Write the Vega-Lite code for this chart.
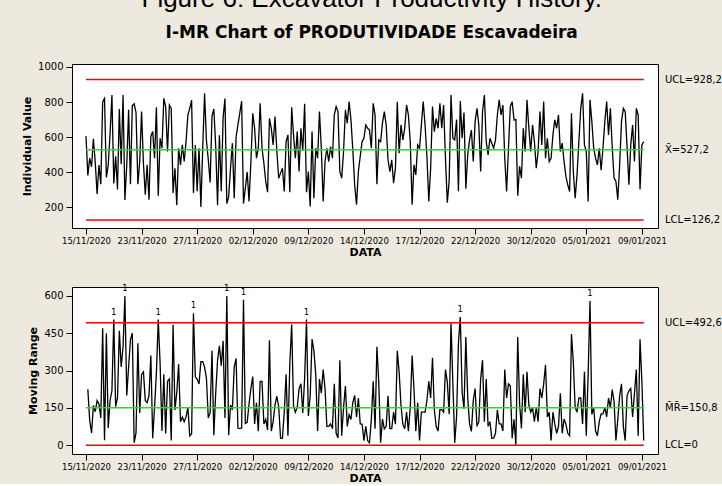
{
  "$schema": "https://vega.github.io/schema/vega-lite/v6.json",
  "background": "#EDE9DF",
  "padding": {"left": 21, "top": -14, "right": 0, "bottom": 0},
  "title": {
    "text": "Figure 6: Excavator Productivity History.",
    "subtitle": "I-MR Chart of PRODUTIVIDADE Escavadeira",
    "font": "Liberation Sans", "fontSize": 26, "fontWeight": "normal", "color": "#000000",
    "subtitleFont": "DejaVu Sans", "subtitleFontSize": 17, "subtitleFontWeight": "bold", "subtitleColor": "#000000",
    "subtitlePadding": 13, "offset": 20, "anchor": "middle"
  },
  "config": {
    "font": "DejaVu Sans",
    "view": {"fill": "white", "stroke": "black", "strokeWidth": 1},
    "axis": {"grid": false, "domain": false, "tickColor": "black", "tickSize": 6, "labelColor": "#000000", "labelFont": "DejaVu Sans", "labelFontSize": 10, "titleFont": "DejaVu Sans", "titleFontSize": 11, "titleFontWeight": "bold", "titleColor": "#000000"},
    "axisX": {"labelFontSize": 8.5}
  },
  "datasets": {
    "ilim": [
      {"label": "UCL=928,2", "v": 928.2, "kind": "limit"},
      {"label": "X\u0304=527,2", "v": 527.2, "kind": "center"},
      {"label": "LCL=126,2", "v": 126.2, "kind": "limit"}
    ],
    "mrlim": [
      {"label": "UCL=492,6", "mr": 492.6, "kind": "limit"},
      {"label": "M\u0304R\u0304=150,8", "mr": 150.8, "kind": "center"},
      {"label": "LCL=0", "mr": 0, "kind": "limit"}
    ],
    "obs": [
{"i":1,"v":605,"mr":null},{"i":2,"v":380,"mr":225},{"i":3,"v":480,"mr":100},{"i":4,"v":430,"mr":50},{"i":5,"v":590,"mr":160},{"i":6,"v":455,"mr":135},{"i":7,"v":275,"mr":180},{"i":8,"v":440,"mr":165},{"i":9,"v":330,"mr":110},{"i":10,"v":800,"mr":470},
{"i":11,"v":820,"mr":20},{"i":12,"v":370,"mr":450},{"i":13,"v":440,"mr":70},{"i":14,"v":620,"mr":180},{"i":15,"v":840,"mr":220},{"i":16,"v":335,"mr":505},{"i":17,"v":490,"mr":155},{"i":18,"v":300,"mr":190},{"i":19,"v":760,"mr":460},{"i":20,"v":445,"mr":315},
{"i":21,"v":840,"mr":395},{"i":22,"v":240,"mr":600},{"i":23,"v":440,"mr":200},{"i":24,"v":755,"mr":315},{"i":25,"v":330,"mr":425},{"i":26,"v":780,"mr":450},{"i":27,"v":790,"mr":10},{"i":28,"v":740,"mr":50},{"i":29,"v":330,"mr":410},{"i":30,"v":460,"mr":130},
{"i":31,"v":745,"mr":285},{"i":32,"v":450,"mr":295},{"i":33,"v":270,"mr":180},{"i":34,"v":441,"mr":171},{"i":35,"v":242,"mr":199},{"i":36,"v":603,"mr":361},{"i":37,"v":631,"mr":28},{"i":38,"v":479,"mr":152},{"i":39,"v":770,"mr":291},{"i":40,"v":265,"mr":505},
{"i":41,"v":593,"mr":328},{"i":42,"v":536,"mr":57},{"i":43,"v":821,"mr":285},{"i":44,"v":774,"mr":47},{"i":45,"v":517,"mr":257},{"i":46,"v":783,"mr":266},{"i":47,"v":764,"mr":19},{"i":48,"v":280,"mr":484},{"i":49,"v":422,"mr":142},{"i":50,"v":210,"mr":212},
{"i":51,"v":536,"mr":326},{"i":52,"v":441,"mr":95},{"i":53,"v":555,"mr":114},{"i":54,"v":460,"mr":95},{"i":55,"v":574,"mr":114},{"i":56,"v":726,"mr":152},{"i":57,"v":764,"mr":38},{"i":58,"v":810,"mr":46},{"i":59,"v":280,"mr":530},{"i":60,"v":555,"mr":275},
{"i":61,"v":290,"mr":265},{"i":62,"v":536,"mr":246},{"i":63,"v":200,"mr":336},{"i":64,"v":536,"mr":336},{"i":65,"v":850,"mr":314},{"i":66,"v":580,"mr":270},{"i":67,"v":470,"mr":110},{"i":68,"v":340,"mr":130},{"i":69,"v":720,"mr":380},{"i":70,"v":760,"mr":40},
{"i":71,"v":550,"mr":210},{"i":72,"v":210,"mr":340},{"i":73,"v":610,"mr":400},{"i":74,"v":290,"mr":320},{"i":75,"v":710,"mr":420},{"i":76,"v":820,"mr":110},{"i":77,"v":220,"mr":600},{"i":78,"v":260,"mr":40},{"i":79,"v":422,"mr":162},{"i":80,"v":565,"mr":143},
{"i":81,"v":251,"mr":314},{"i":82,"v":600,"mr":349},{"i":83,"v":669,"mr":69},{"i":84,"v":736,"mr":67},{"i":85,"v":805,"mr":69},{"i":86,"v":220,"mr":585},{"i":87,"v":308,"mr":88},{"i":88,"v":400,"mr":92},{"i":89,"v":232,"mr":168},{"i":90,"v":460,"mr":228},
{"i":91,"v":736,"mr":276},{"i":92,"v":650,"mr":86},{"i":93,"v":479,"mr":171},{"i":94,"v":536,"mr":57},{"i":95,"v":793,"mr":257},{"i":96,"v":536,"mr":257},{"i":97,"v":450,"mr":86},{"i":98,"v":346,"mr":104},{"i":99,"v":285,"mr":61},{"i":100,"v":707,"mr":422},
{"i":101,"v":650,"mr":57},{"i":102,"v":555,"mr":95},{"i":103,"v":717,"mr":162},{"i":104,"v":520,"mr":197},{"i":105,"v":365,"mr":155},{"i":106,"v":394,"mr":29},{"i":107,"v":422,"mr":28},{"i":108,"v":289,"mr":133},{"i":109,"v":574,"mr":285},{"i":110,"v":612,"mr":38},
{"i":111,"v":285,"mr":327},{"i":112,"v":770,"mr":485},{"i":113,"v":612,"mr":158},{"i":114,"v":479,"mr":133},{"i":115,"v":631,"mr":152},{"i":116,"v":403,"mr":228},{"i":117,"v":650,"mr":247},{"i":118,"v":520,"mr":130},{"i":119,"v":790,"mr":270},{"i":120,"v":285,"mr":505},
{"i":121,"v":403,"mr":118},{"i":122,"v":204,"mr":199},{"i":123,"v":631,"mr":427},{"i":124,"v":251,"mr":380},{"i":125,"v":536,"mr":285},{"i":126,"v":479,"mr":57},{"i":127,"v":745,"mr":266},{"i":128,"v":536,"mr":209},{"i":129,"v":232,"mr":304},{"i":130,"v":460,"mr":228},
{"i":131,"v":536,"mr":76},{"i":132,"v":460,"mr":76},{"i":133,"v":546,"mr":86},{"i":134,"v":479,"mr":67},{"i":135,"v":726,"mr":247},{"i":136,"v":774,"mr":48},{"i":137,"v":745,"mr":29},{"i":138,"v":403,"mr":342},{"i":139,"v":365,"mr":38},{"i":140,"v":517,"mr":152},
{"i":141,"v":755,"mr":238},{"i":142,"v":679,"mr":76},{"i":143,"v":802,"mr":123},{"i":144,"v":698,"mr":104},{"i":145,"v":527,"mr":171},{"i":146,"v":327,"mr":200},{"i":147,"v":213,"mr":114},{"i":148,"v":403,"mr":190},{"i":149,"v":489,"mr":86},{"i":150,"v":574,"mr":85},
{"i":151,"v":593,"mr":19},{"i":152,"v":669,"mr":76},{"i":153,"v":650,"mr":19},{"i":154,"v":640,"mr":10},{"i":155,"v":536,"mr":104},{"i":156,"v":793,"mr":257},{"i":157,"v":726,"mr":67},{"i":158,"v":330,"mr":396},{"i":159,"v":584,"mr":254},{"i":160,"v":574,"mr":10},
{"i":161,"v":679,"mr":105},{"i":162,"v":745,"mr":66},{"i":163,"v":669,"mr":76},{"i":164,"v":470,"mr":199},{"i":165,"v":403,"mr":67},{"i":166,"v":470,"mr":67},{"i":167,"v":337,"mr":133},{"i":168,"v":422,"mr":85},{"i":169,"v":802,"mr":380},{"i":170,"v":508,"mr":294},
{"i":171,"v":669,"mr":161},{"i":172,"v":584,"mr":85},{"i":173,"v":650,"mr":66},{"i":174,"v":783,"mr":133},{"i":175,"v":726,"mr":57},{"i":176,"v":574,"mr":152},{"i":177,"v":213,"mr":361},{"i":178,"v":441,"mr":228},{"i":179,"v":384,"mr":57},{"i":180,"v":555,"mr":171},
{"i":181,"v":536,"mr":19},{"i":182,"v":669,"mr":133},{"i":183,"v":802,"mr":133},{"i":184,"v":669,"mr":133},{"i":185,"v":489,"mr":180},{"i":186,"v":232,"mr":257},{"i":187,"v":422,"mr":190},{"i":188,"v":774,"mr":352},{"i":189,"v":631,"mr":143},{"i":190,"v":707,"mr":76},
{"i":191,"v":650,"mr":57},{"i":192,"v":793,"mr":143},{"i":193,"v":650,"mr":143},{"i":194,"v":783,"mr":133},{"i":195,"v":479,"mr":304},{"i":196,"v":225,"mr":254},{"i":197,"v":350,"mr":125},{"i":198,"v":840,"mr":490},{"i":199,"v":593,"mr":247},{"i":200,"v":584,"mr":9},
{"i":201,"v":700,"mr":116},{"i":202,"v":290,"mr":410},{"i":203,"v":805,"mr":515},{"i":204,"v":593,"mr":212},{"i":205,"v":740,"mr":147},{"i":206,"v":305,"mr":435},{"i":207,"v":498,"mr":193},{"i":208,"v":584,"mr":86},{"i":209,"v":640,"mr":56},{"i":210,"v":460,"mr":180},
{"i":211,"v":688,"mr":228},{"i":212,"v":764,"mr":76},{"i":213,"v":669,"mr":95},{"i":214,"v":403,"mr":266},{"i":215,"v":745,"mr":342},{"i":216,"v":840,"mr":95},{"i":217,"v":574,"mr":266},{"i":218,"v":498,"mr":76},{"i":219,"v":593,"mr":95},{"i":220,"v":565,"mr":28},
{"i":221,"v":536,"mr":29},{"i":222,"v":584,"mr":48},{"i":223,"v":726,"mr":142},{"i":224,"v":812,"mr":86},{"i":225,"v":726,"mr":86},{"i":226,"v":783,"mr":57},{"i":227,"v":479,"mr":304},{"i":228,"v":289,"mr":190},{"i":229,"v":536,"mr":247},{"i":230,"v":774,"mr":238},
{"i":231,"v":802,"mr":28},{"i":232,"v":698,"mr":104},{"i":233,"v":700,"mr":2},{"i":234,"v":265,"mr":435},{"i":235,"v":433,"mr":168},{"i":236,"v":365,"mr":68},{"i":237,"v":650,"mr":285},{"i":238,"v":517,"mr":133},{"i":239,"v":812,"mr":295},{"i":240,"v":650,"mr":162},
{"i":241,"v":517,"mr":133},{"i":242,"v":669,"mr":152},{"i":243,"v":574,"mr":95},{"i":244,"v":422,"mr":152},{"i":245,"v":517,"mr":95},{"i":246,"v":745,"mr":228},{"i":247,"v":555,"mr":190},{"i":248,"v":802,"mr":247},{"i":249,"v":479,"mr":323},{"i":250,"v":593,"mr":114},
{"i":251,"v":460,"mr":133},{"i":252,"v":479,"mr":19},{"i":253,"v":612,"mr":133},{"i":254,"v":698,"mr":86},{"i":255,"v":650,"mr":48},{"i":256,"v":726,"mr":76},{"i":257,"v":517,"mr":209},{"i":258,"v":565,"mr":48},{"i":259,"v":460,"mr":105},{"i":260,"v":375,"mr":85},
{"i":261,"v":327,"mr":48},{"i":262,"v":289,"mr":38},{"i":263,"v":736,"mr":447},{"i":264,"v":403,"mr":333},{"i":265,"v":251,"mr":152},{"i":266,"v":384,"mr":133},{"i":267,"v":574,"mr":190},{"i":268,"v":764,"mr":190},{"i":269,"v":850,"mr":86},{"i":270,"v":555,"mr":295},
{"i":271,"v":517,"mr":38},{"i":272,"v":232,"mr":285},{"i":273,"v":812,"mr":580},{"i":274,"v":688,"mr":124},{"i":275,"v":536,"mr":152},{"i":276,"v":479,"mr":57},{"i":277,"v":441,"mr":38},{"i":278,"v":536,"mr":95},{"i":279,"v":410,"mr":126},{"i":280,"v":536,"mr":126},
{"i":281,"v":688,"mr":152},{"i":282,"v":802,"mr":114},{"i":283,"v":612,"mr":190},{"i":284,"v":764,"mr":152},{"i":285,"v":540,"mr":224},{"i":286,"v":365,"mr":175},{"i":287,"v":346,"mr":19},{"i":288,"v":242,"mr":104},{"i":289,"v":441,"mr":199},{"i":290,"v":688,"mr":247},
{"i":291,"v":764,"mr":76},{"i":292,"v":745,"mr":19},{"i":293,"v":546,"mr":199},{"i":294,"v":327,"mr":219},{"i":295,"v":555,"mr":228},{"i":296,"v":669,"mr":114},{"i":297,"v":460,"mr":209},{"i":298,"v":764,"mr":304},{"i":299,"v":726,"mr":38},{"i":300,"v":300,"mr":426},
{"i":301,"v":555,"mr":255},{"i":302,"v":574,"mr":19}
    ]
  },
  "spacing": 59,
  "bounds": "flush",
  "vconcat": [
    {
      "width": 586,
      "height": 164,
      "layer": [
        {
          "data": {"name": "obs"},
          "mark": {"type": "line", "color": "black", "strokeWidth": 1.3},
          "encoding": {
            "x": {"field": "i", "type": "quantitative", "scale": {"domain": [-6.55, 309.7], "nice": false, "zero": false},
              "axis": {"title": "DATA", "values": [1, 31, 61, 91, 121, 151, 181, 211, 241, 271, 301], "labelExpr": "['15/11/2020','23/11/2020','27/11/2020','02/12/2020','09/12/2020','14/12/2020','17/12/2020','22/12/2020','30/12/2020','05/01/2021','09/01/2021'][round((datum.value-1)/30)]", "labelFlush": false, "labelOverlap": false, "labelPadding": 2, "titlePadding": 2}},
            "y": {"field": "v", "type": "quantitative", "scale": {"domain": [80.5, 1017], "nice": false, "zero": false},
              "axis": {"title": "Individual Value", "values": [200, 400, 600, 800, 1000], "format": "d", "labelPadding": 3, "titlePadding": 5}}
          }
        },
        {
          "data": {"name": "ilim"},
          "mark": {"type": "rule", "strokeWidth": 1.5},
          "encoding": {
            "x": {"datum": 1, "type": "quantitative"},
            "x2": {"datum": 302},
            "y": {"field": "v", "type": "quantitative"},
            "color": {"field": "kind", "type": "nominal", "scale": {"domain": ["limit", "center"], "range": ["#FF0000", "#22DD22"]}, "legend": null}
          }
        },
        {
          "data": {"name": "ilim"},
          "mark": {"type": "text", "align": "left", "baseline": "middle", "dx": 7, "fontSize": 10, "font": "DejaVu Sans", "color": "#000000"},
          "encoding": {
            "x": {"value": "width"},
            "y": {"field": "v", "type": "quantitative"},
            "text": {"field": "label"}
          }
        }
      ]
    },
    {
      "width": 586,
      "height": 167,
      "layer": [
        {
          "data": {"name": "obs"},
          "mark": {"type": "line", "color": "black", "strokeWidth": 1.3},
          "encoding": {
            "x": {"field": "i", "type": "quantitative", "scale": {"domain": [-6.55, 309.7], "nice": false, "zero": false},
              "axis": {"title": "DATA", "values": [1, 31, 61, 91, 121, 151, 181, 211, 241, 271, 301], "labelExpr": "['15/11/2020','23/11/2020','27/11/2020','02/12/2020','09/12/2020','14/12/2020','17/12/2020','22/12/2020','30/12/2020','05/01/2021','09/01/2021'][round((datum.value-1)/30)]", "labelFlush": false, "labelOverlap": false, "labelPadding": 2, "titlePadding": 2}},
            "y": {"field": "mr", "type": "quantitative", "scale": {"domain": [-35, 636], "nice": false, "zero": false},
              "axis": {"title": "Moving Range", "values": [0, 150, 300, 450, 600], "format": "d", "labelPadding": 3, "titlePadding": 5}}
          }
        },
        {
          "data": {"name": "mrlim"},
          "mark": {"type": "rule", "strokeWidth": 1.5},
          "encoding": {
            "x": {"datum": 1, "type": "quantitative"},
            "x2": {"datum": 302},
            "y": {"field": "mr", "type": "quantitative"},
            "color": {"field": "kind", "type": "nominal", "scale": {"domain": ["limit", "center"], "range": ["#FF0000", "#22DD22"]}, "legend": null}
          }
        },
        {
          "data": {"name": "mrlim"},
          "mark": {"type": "text", "align": "left", "baseline": "middle", "dx": 7, "fontSize": 10, "font": "DejaVu Sans", "color": "#000000"},
          "encoding": {
            "x": {"value": "width"},
            "y": {"field": "mr", "type": "quantitative"},
            "text": {"field": "label"}
          }
        },
        {
          "data": {"name": "obs"},
          "transform": [{"filter": "datum.mr > 492.6"}],
          "mark": {"type": "text", "baseline": "middle", "align": "center", "dy": -8, "fontSize": 8.5, "font": "DejaVu Sans", "color": "#000000"},
          "encoding": {
            "x": {"field": "i", "type": "quantitative"},
            "y": {"field": "mr", "type": "quantitative"},
            "text": {"value": "1"}
          }
        }
      ]
    }
  ]
}
